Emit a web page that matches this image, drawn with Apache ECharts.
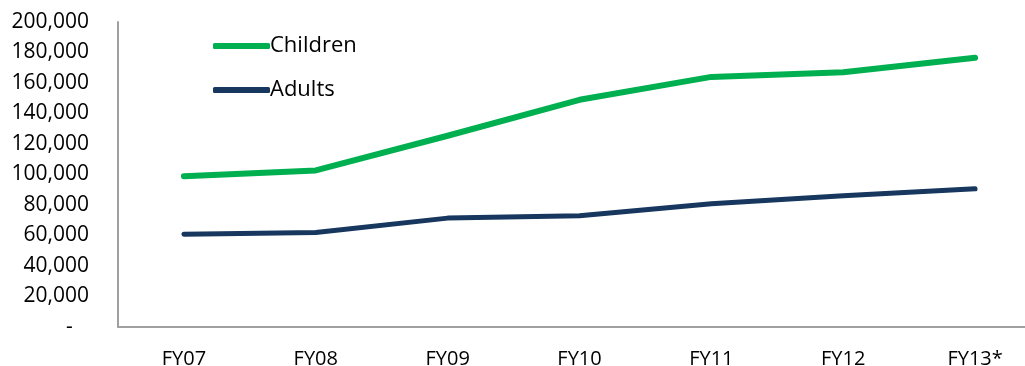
<!DOCTYPE html>
<html>
<head>
<meta charset="utf-8">
<script src="https://cdn.jsdelivr.net/npm/echarts@6/dist/echarts.min.js"></script>
<style>
  html, body { margin: 0; padding: 0; background: #fff; }
  #chart { width: 1025px; height: 366px; }
</style>
</head>
<body>
<div id="chart"></div>
<script type="text/javascript">
    var years = ['FY07', 'FY08', 'FY09', 'FY10', 'FY11', 'FY12', 'FY13*'];
    var children = [98900, 102700, 125400, 149000, 164000, 167000, 176500];
    var adults = [60900, 62000, 71400, 72900, 80800, 86000, 90600];
    var yTicks = [0, 20000, 40000, 60000, 80000, 100000, 120000, 140000, 160000, 180000, 200000];

    var font = 'Open Sans';
    var myChart = echarts.init(document.getElementById('chart'));
    var option = {
        animation: false,
        textStyle: { fontFamily: font },
        grid: { left: 118, right: -16, top: 22, bottom: 39, outerBoundsMode: 'none' },
        legend: {
            orient: 'vertical',
            left: 208,
            top: 30,
            itemGap: 22,
            itemWidth: 57,
            itemHeight: 6,
            icon: 'roundRect',
            textStyle: { fontSize: 22, color: '#000', fontFamily: font, padding: [0, 0, 0, -5] },
            data: ['Children', 'Adults']
        },
        xAxis: {
            type: 'category',
            data: years,
            boundaryGap: true,
            axisLine: { lineStyle: { color: '#a0a0a0', width: 2 } },
            axisTick: { show: false },
            axisLabel: { color: '#000', fontSize: 20, margin: 22, fontFamily: font }
        },
        yAxis: {
            type: 'value',
            min: yTicks[0],
            max: yTicks[yTicks.length - 1],
            interval: 20000,
            splitLine: { show: false },
            axisLine: { show: true, lineStyle: { color: '#a0a0a0', width: 2 } },
            axisTick: { show: false },
            axisLabel: {
                color: '#000', fontSize: 21, margin: 29, fontFamily: font,
                formatter: function (v) {
                    return v === 0 ? '-   ' : v.toLocaleString('en-US');
                }
            }
        },
        series: [
            {
                name: 'Children',
                type: 'line',
                data: children,
                symbol: 'none',
                itemStyle: { color: '#00b050' },
                lineStyle: { color: '#00b050', width: 6, cap: 'round', join: 'round' }
            },
            {
                name: 'Adults',
                type: 'line',
                data: adults,
                symbol: 'none',
                itemStyle: { color: '#17375e' },
                lineStyle: { color: '#17375e', width: 5, cap: 'round', join: 'round' }
            }
        ]
    };
    myChart.setOption(option);
</script>
</body>
</html>
